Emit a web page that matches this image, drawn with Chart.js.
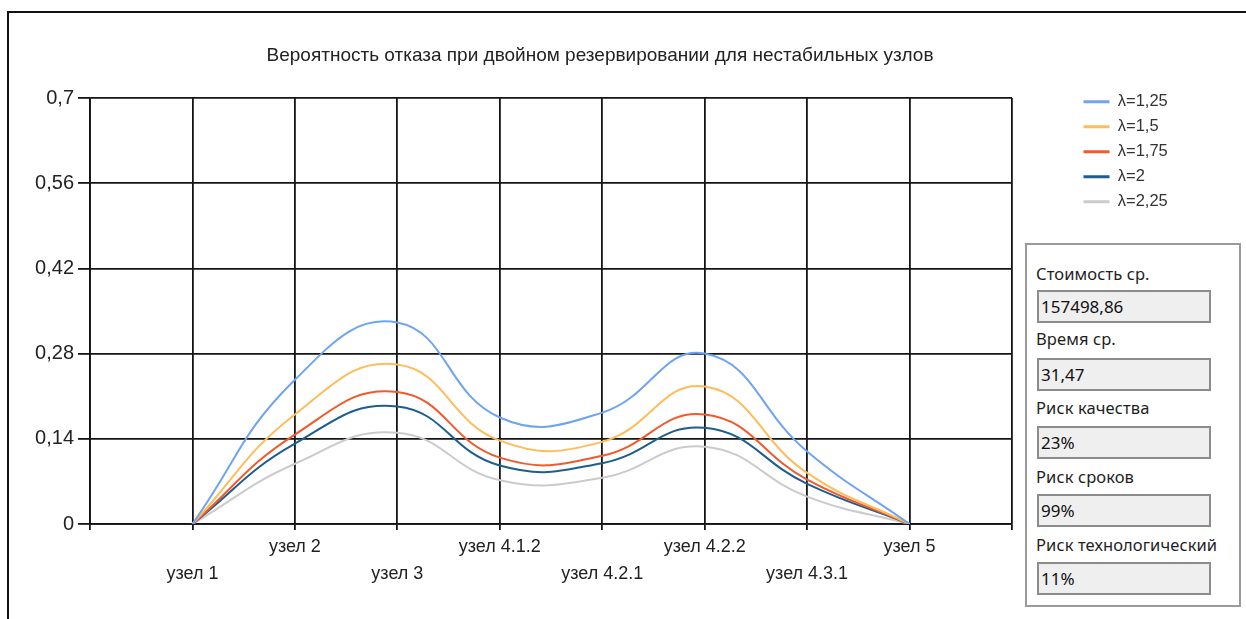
<!DOCTYPE html>
<html>
<head>
<meta charset="utf-8">
<script src="https://cdn.jsdelivr.net/npm/chart.js@4.4.1/dist/chart.umd.min.js"></script>
<style>
  html, body { margin: 0; padding: 0; background: #fff; }
  #wrap { position: relative; width: 1246px; height: 619px; overflow: hidden; background: #fff; }
  #frame { position: absolute; left: 7px; top: 11px; right: -10px; bottom: -10px; border-left: 2px solid #111; border-top: 2px solid #111; }
  #c { position: absolute; left: 0; top: 0; }
  #panel { position: absolute; left: 1025px; top: 243px; width: 216px; height: 364px; border: 2px solid #9a9a9a; box-sizing: border-box; background: #fff; font-family: "Noto Sans", "Open Sans", sans-serif; color: #1e1e1e; }
  .lbl { position: absolute; left: 9px; font-size: 16.5px; line-height: 20px; white-space: nowrap; letter-spacing: 0.1px; }
  .box { position: absolute; left: 10px; width: 174px; height: 33px; box-sizing: border-box; border: 2px solid #8c8c8c; background: #efefef; font-size: 17px; line-height: 29px; padding-left: 2px; color: #111; }
</style>
</head>
<body>
<div id="wrap">
  <div id="frame"></div>
  <canvas id="c" width="1246" height="619"></canvas>
  <div id="panel"></div>
</div>
<script>
// ---- data ----
const chartTitle = 'Вероятность отказа при двойном резервировании для нестабильных узлов';
const categories = ['узел 1', 'узел 2', 'узел 3', 'узел 4.1.2', 'узел 4.2.1', 'узел 4.2.2', 'узел 4.3.1', 'узел 5'];
const seriesNames = ['λ=1,25', 'λ=1,5', 'λ=1,75', 'λ=2', 'λ=2,25'];
const lambda125 = [0, 0.237, 0.331, 0.175, 0.183, 0.280, 0.119, 0];
const lambda150 = [0, 0.180, 0.262, 0.137, 0.135, 0.226, 0.084, 0];
const lambda175 = [0, 0.147, 0.217, 0.109, 0.112, 0.180, 0.073, 0];
const lambda200 = [0, 0.132, 0.193, 0.096, 0.100, 0.158, 0.066, 0];
const lambda225 = [0, 0.099, 0.150, 0.072, 0.076, 0.127, 0.045, 0];
const yTicks = [0, 0.14, 0.28, 0.42, 0.56, 0.7];
const panelLabels = ['Стоимость ср.', 'Время ср.', 'Риск качества', 'Риск сроков', 'Риск технологический'];
const panelValues = ['157498,86', '31,47', '23%', '99%', '11%'];

// ---- styles ----
const colors = ['#6fa4f2', '#ffbc5a', '#f15a2b', '#1c5f8e', '#cbcbcb'];
const allSeries = [lambda125, lambda150, lambda175, lambda200, lambda225];

// padded labels: empty slot on each side of the category axis
const labels = [''].concat(categories, ['']);
const pad = arr => [null].concat(arr, [null]);

const datasets = allSeries.map((s, i) => ({
  label: seriesNames[i],
  data: pad(s),
  borderColor: colors[i],
  backgroundColor: colors[i],
  borderWidth: 2,
  pointRadius: 0,
  pointHoverRadius: 0,
  tension: 0.45,
  fill: false,
  yAxisID: 'y'
}));

const legendPlace = {
  id: 'legendPlace',
  afterLayout(chart) {
    const lg = chart.legend;
    if (!lg) return;
    const w = lg.width, h = lg.height;
    lg.left = 1075; lg.top = 85;
    lg.right = lg.left + w; lg.bottom = lg.top + h;
  }
};

const gridColor = '#151515';
const FONT = '"Liberation Sans", Arial, sans-serif';

new Chart(document.getElementById('c'), {
  type: 'line',
  data: { labels, datasets },
  plugins: [legendPlace],
  options: {
    responsive: false,
    devicePixelRatio: 1,
    animation: false,
    layout: { padding: { left: 0, top: 0, right: 46, bottom: 0 } },
    plugins: {
      title: {
        display: true,
        text: chartTitle,
        color: '#222',
        font: { family: FONT, size: 19, weight: 'normal', lineHeight: 1.2 },
        padding: { top: 44, bottom: 31.2 }
      },
      legend: {
        position: 'chartArea',
        align: 'start',
        labels: {
          usePointStyle: true,
          pointStyle: 'line',
          pointStyleWidth: 26,
          boxHeight: 16,
          padding: 8.5,
          color: '#333',
          font: { family: FONT, size: 16.5 },
          generateLabels(chart) {
            const items = Chart.defaults.plugins.legend.labels.generateLabels(chart);
            items.forEach(it => { it.lineWidth = 3; it.pointStyle = 'line'; });
            return items;
          }
        }
      },
      tooltip: { enabled: false }
    },
    scales: {
      x: {
        type: 'category',
        offset: false,
        grid: { color: gridColor, lineWidth: 1.8, tickLength: 6, drawTicks: true },
        border: { color: gridColor, width: 1.8 },
        ticks: {
          autoSkip: false,
          maxRotation: 0,
          minRotation: 0,
          padding: 4,
          color: '#222',
          font: { family: FONT, size: 18, lineHeight: 1.5 },
          callback(v, idx) {
            const t = labels[idx];
            if (!t) return '';
            return idx % 2 === 1 ? ['', t] : [t, ''];
          }
        },
        afterFit(scale) { scale.height = 95; }
      },
      y: {
        min: 0,
        max: 0.7,
        grid: { color: gridColor, lineWidth: 1.8, tickLength: 12 },
        border: { color: gridColor, width: 1.8 },
        ticks: {
          padding: 4,
          color: '#222',
          font: { family: FONT, size: 20 },
          callback(v) { return String(Math.round(v * 100) / 100).replace('.', ','); }
        },
        afterBuildTicks(scale) { scale.ticks = yTicks.map(v => ({ value: v })); },
        afterFit(scale) { scale.width = 90; }
      },
      spacer: {
        type: 'linear',
        position: 'right',
        display: true,
        grid: { display: false },
        border: { display: false },
        ticks: { display: false },
        afterFit(scale) { scale.width = 188; }
      }
    }
  }
});

// side panel (WinForms-like info box)
const panel = document.getElementById('panel');
const labelTops = [19, 84, 153, 222, 290];
const boxTops = [45, 113, 181, 249, 317];
panelLabels.forEach((t, i) => {
  const l = document.createElement('div');
  l.className = 'lbl'; l.style.top = labelTops[i] + 'px'; l.textContent = t;
  panel.appendChild(l);
  const b = document.createElement('div');
  b.className = 'box'; b.style.top = boxTops[i] + 'px'; b.textContent = panelValues[i];
  panel.appendChild(b);
});
</script>
</body>
</html>
